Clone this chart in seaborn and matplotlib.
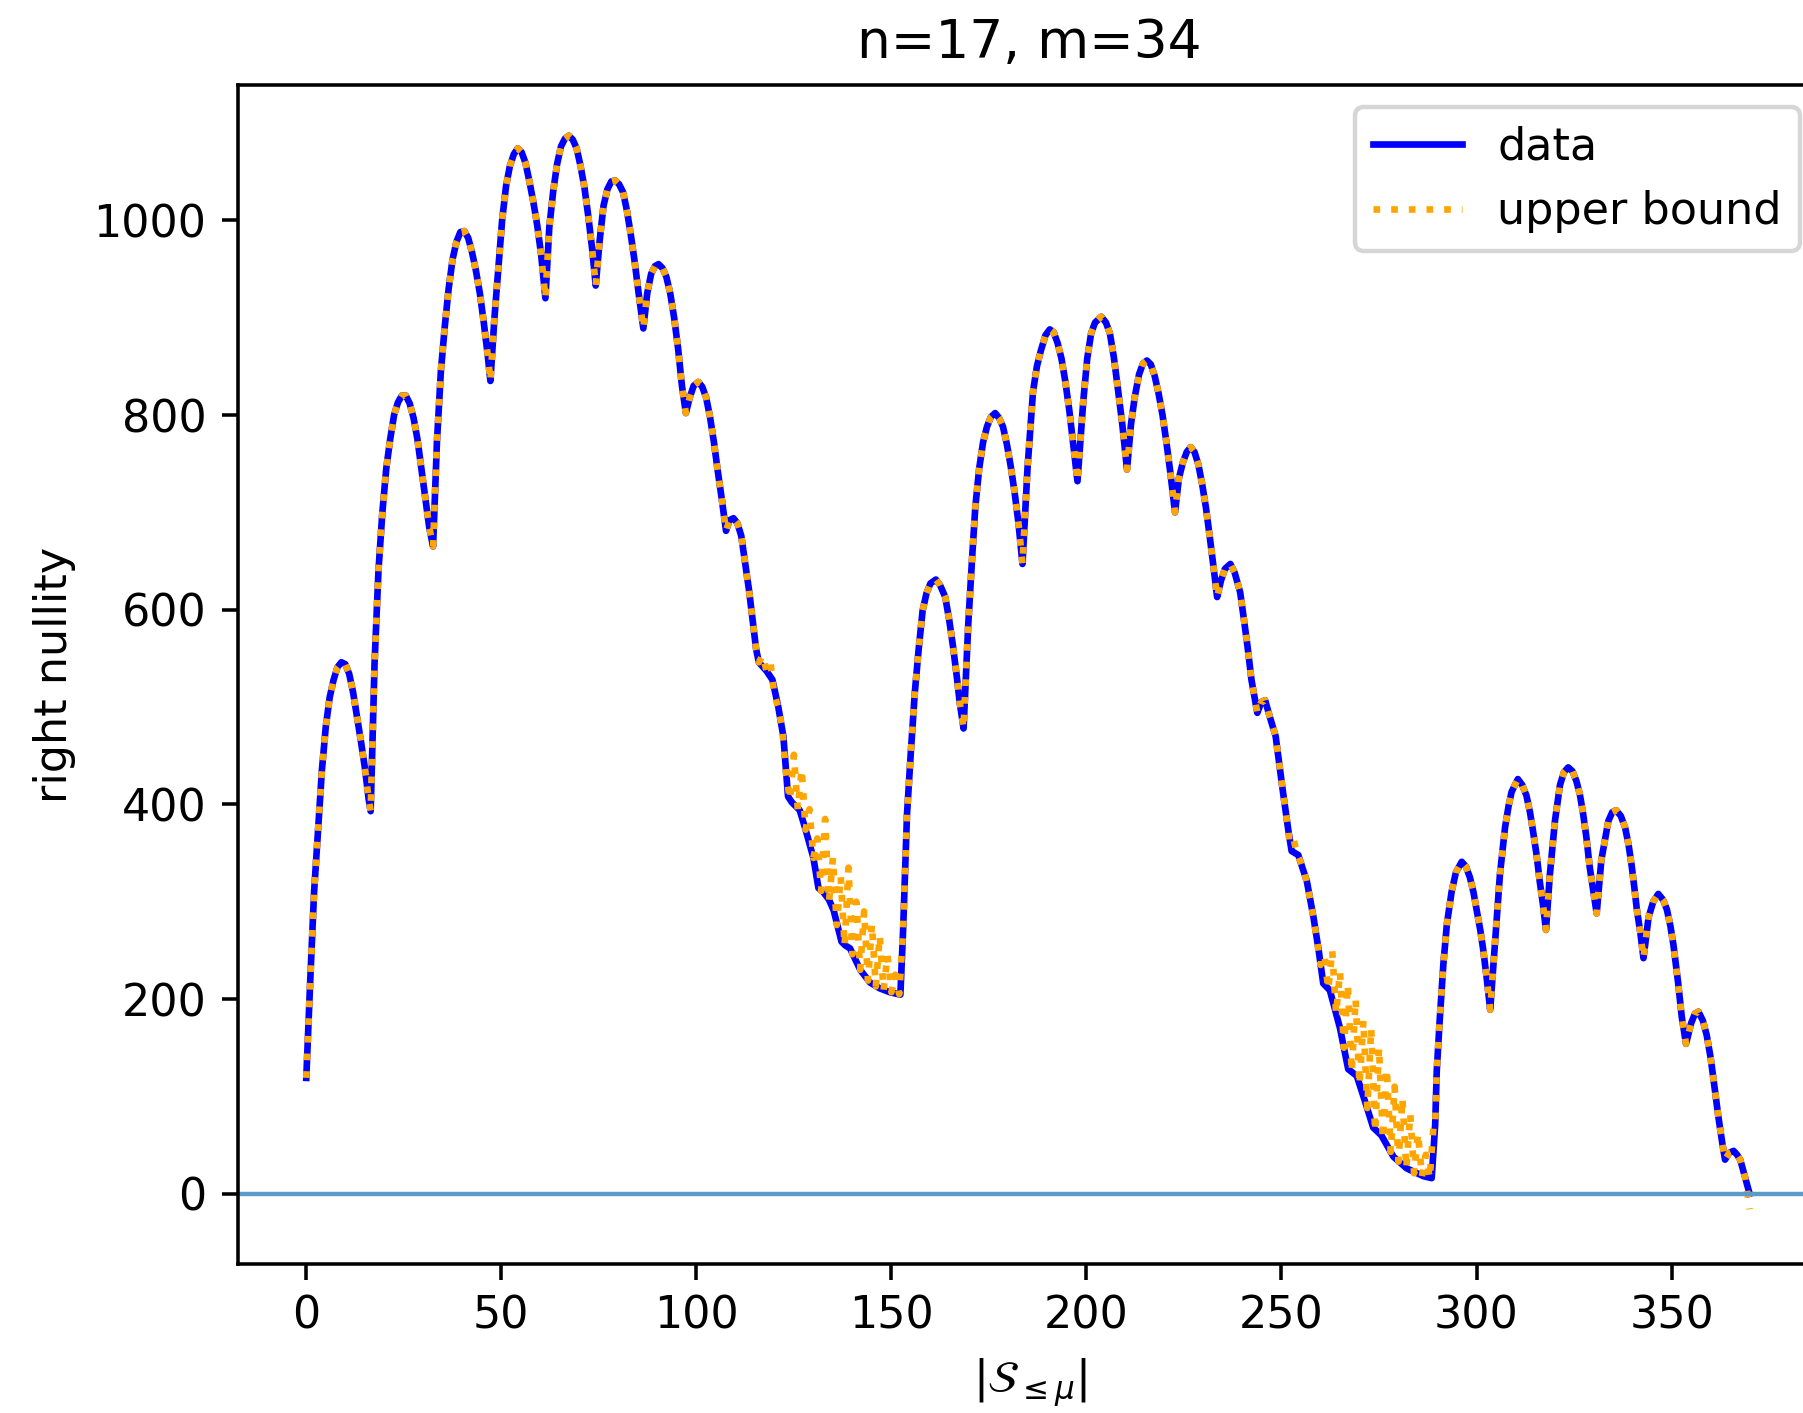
import matplotlib
matplotlib.use("Agg")
import matplotlib.pyplot as plt
import pandas as pd
import seaborn as sns

# ================= data =================
# |S_{<=mu}| positions and the measured right nullity ("data")
subset_size = [
    0, 1, 2, 3, 4, 5, 6, 7, 8, 9, 10, 11, 12, 13, 14, 15, 16, 16.5,
    17.5, 18.5, 19.5, 20.5, 21.5, 22.5, 23.5, 24.5, 25.5, 26.5, 27.5, 28.5, 29.5, 30.5, 31.5, 32.5,
    33.5, 34.5, 35.5, 36.5, 37.5, 38.5, 39.5, 40.5, 41.5, 42.5, 43.5, 44.5, 45.5, 46.5, 47.2,
    48.2, 49.2, 50.2, 51.2, 52.2, 53.2, 54.2, 55.2, 56.2, 57.2, 58.2, 59.2, 60.2, 61.3,
    62.3, 63.3, 64.3, 65.3, 66.3, 67.3, 68.3, 69.3, 70.3, 71.3, 72.3, 73.3, 74.2,
    75.2, 76.2, 77.2, 78.2, 79.2, 80.2, 81.2, 82.2, 83.2, 84.2, 85.2, 86.4,
    87.4, 88.4, 89.4, 90.3, 91.3, 92.3, 93.3, 94.3, 95.3, 96.3, 97.3,
    98.3, 99.3, 100.5, 101.5, 102.5, 103.5, 104.5, 105.5, 106.5, 107.6,
    108.5, 109.5, 110.5, 111.5, 112.5, 113.5, 114.5, 115.3, 116,
    118, 119.5, 121, 122.3, 123.5, 124.5, 126.5, 128, 130, 131.3, 132.5, 134, 135.2,
    137.2, 138.2, 139.4, 142, 144.5, 147, 149.6, 152.3,
    153, 154, 155, 156, 157, 158, 159, 160, 161.4, 162.5, 163.8, 164.8, 165.8, 166.8, 167.5, 168.5,
    169.7, 170.7, 171.5, 172.5, 173.5, 174.5, 175.5, 176.6, 177.6, 178.6, 179.6, 180.6, 181.6, 182.6, 183.6,
    184.9, 186.3, 187.3, 188.3, 189.5, 190.6, 191.6, 192.6, 193.6, 194.6, 195.6, 196.6, 197.7,
    199.2, 200.2, 201.2, 202.2, 203.8, 205, 206, 207, 208, 209.2, 210.4,
    211.4, 212.4, 213.5, 214.5, 215.5, 216.5, 217.5, 218.5, 219.5, 220.5, 221.6, 222.7,
    223.7, 224.7, 225.7, 226.7, 227.7, 228.7, 229.7, 230.7, 231.7, 232.6, 233.5,
    234.5, 235.5, 236.9, 238, 239.4, 240.3, 241.3, 242.3, 243.8,
    244.8, 245.8, 247, 248.5, 250.3, 251.8, 252.6, 254.3, 256.5, 258.2, 259.5, 260.7,
    262.4, 265, 267.1, 269.3, 271.8, 273.5, 275.6, 278.7, 282.1, 286.4, 288.5,
    289.4, 289.8, 290.6, 291.5, 292.4, 293.6, 294.7, 296.2, 297.3, 298.3, 299.2, 300, 301, 301.7, 302.6, 303.5,
    304.7, 306, 307.3, 308.2, 309, 310.6, 311.7, 312.8, 313.7, 314.5, 315.4, 316.2, 317, 317.8,
    318.8, 320.1, 321.4, 322.4, 323.5, 324.6, 325.6, 326.5, 327.3, 328.2, 329, 329.9, 330.8,
    332, 333, 333.8, 334.8, 335.8, 337, 338.1, 339, 339.8, 340.5, 341.1, 342, 342.8,
    344.1, 345.3, 346.6, 347.8, 348.8, 349.7, 350.5, 351.7, 352.6, 353.7,
    355, 356, 356.9, 358, 359, 360, 360.7, 362, 363, 363.7,
    364.8, 365.9, 366.8, 367.6, 368.9, 370,
]
right_nullity = [
    119, 218, 310, 372, 435, 480, 510, 528, 541, 546, 544, 534, 515, 490, 465, 438, 405, 393,
    545, 640, 700, 745, 775, 800, 813, 820, 820, 812, 797, 775, 745, 715, 685, 665,
    773, 845, 891, 930, 960, 978, 988, 989, 982, 967, 948, 925, 895, 862, 835,
    898, 949, 1000, 1035, 1056, 1068, 1074, 1070, 1059, 1040, 1019, 995, 965, 920,
    993, 1030, 1058, 1076, 1084, 1087, 1083, 1074, 1056, 1034, 1004, 970, 933,
    979, 1015, 1032, 1040, 1041, 1037, 1029, 1010, 985, 957, 925, 889,
    925, 945, 953, 955, 951, 942, 925, 900, 869, 830, 802,
    818, 830, 834, 829, 818, 798, 772, 742, 714, 681,
    692, 694, 689, 676, 648, 620, 587, 560, 546,
    537, 528, 500, 470, 408, 402, 394, 374, 345, 314, 310, 302, 291,
    259, 255, 252, 230, 217, 211, 207, 204.5,
    271, 390, 455, 515, 560, 599, 617, 627, 631, 625, 613, 590, 562, 530, 505, 478,
    585, 654, 705, 745, 772, 788, 798, 802, 797, 788, 770, 747, 720, 688, 647,
    746, 824, 850, 866, 882, 888, 885, 874, 858, 834, 805, 770, 732,
    815, 858, 884, 895, 901, 895, 884, 860, 829, 790, 744,
    790, 819, 842, 853, 856, 852, 840, 822, 800, 772, 738, 700,
    735, 751, 762, 767, 762, 749, 728, 703, 672, 643, 613,
    630, 642, 647, 638, 618, 592, 562, 528, 494,
    505, 507, 490, 470, 415, 372, 352, 348, 321, 284, 251, 216,
    209, 170, 128, 121, 90, 68, 60, 38, 26, 18, 16,
    71, 126, 181, 236, 277, 310, 330, 341, 336, 325, 310, 292, 270, 251, 222, 189,
    255, 328, 376, 398, 413, 426, 420, 409, 392, 372, 348, 321, 298, 271,
    328, 383, 420, 433, 438, 434, 424, 410, 391, 365, 336, 312, 288,
    343, 365, 383, 392, 394, 388, 376, 358, 336, 313, 292, 268, 242,
    284, 300, 308, 302, 292, 275, 255, 216, 182, 154,
    175, 185, 187, 178, 163, 140, 119, 79, 52, 35,
    42, 44, 40, 35, 16, 0,
]

# upper bound follows the data except on the two slow descents, where it zigzags above
zig1_x = list(range(116, 154))
zig1_y = [546, 553, 537, 545, 512, 500, 478, 430, 405, 451, 395, 436, 374, 395, 345, 365,
          311, 385, 300, 345, 276, 326, 255, 335, 246, 300, 230, 290, 219, 277, 213, 265,
          209, 245, 207, 225, 205, 271]
zig2_x = list(range(252, 290))
zig2_y = [362, 366, 349, 340, 328, 310, 288, 263, 235, 245, 210, 250, 185, 228, 150, 215,
          125, 200, 112, 178, 88, 170, 64, 150, 56, 128, 43, 110, 33, 98, 26, 82,
          21, 62, 18, 40, 16, 71]
bound_end_x = [370]
bound_end_y = [-16]

# ================= build tables =================
df_data = pd.DataFrame({"size": subset_size, "nullity": right_nullity})

keep_a = df_data[df_data["size"] < 116]
keep_b = df_data[(df_data["size"] > 153) & (df_data["size"] < 252)]
keep_c = df_data[(df_data["size"] > 289) & (df_data["size"] < 370)]
df_bound = pd.concat([
    keep_a,
    pd.DataFrame({"size": zig1_x, "nullity": zig1_y}),
    keep_b,
    pd.DataFrame({"size": zig2_x, "nullity": zig2_y}),
    keep_c,
    pd.DataFrame({"size": bound_end_x, "nullity": bound_end_y}),
], ignore_index=True)

# ================= plot =================
fig = plt.figure(figsize=(1803 / 320, 1413 / 320), dpi=320)
ax = fig.add_axes([0.1318, 0.1056, 0.8786, 0.8342])

sns.lineplot(data=df_data, x="size", y="nullity", color="blue", linewidth=1.5,
             estimator=None, sort=False, label="data", ax=ax)
sns.lineplot(data=df_bound, x="size", y="nullity", color="orange", linewidth=1.5,
             linestyle=":", estimator=None, sort=False, label="upper bound", ax=ax)
ax.axhline(0, color="#5b9bc9", linewidth=1.0)

ax.set_xlim(-17.6, 388.5)
ax.set_ylim(-72, 1139)
ax.set_xticks([0, 50, 100, 150, 200, 250, 300, 350])
ax.set_yticks([0, 200, 400, 600, 800, 1000])
ax.set_title("n=17, m=34")
ax.set_xlabel(r"$|\mathcal{S}_{\leq \mu}|$")
ax.set_ylabel("right nullity")
ax.legend(loc="upper right")

fig.savefig("out.png", dpi=320)
